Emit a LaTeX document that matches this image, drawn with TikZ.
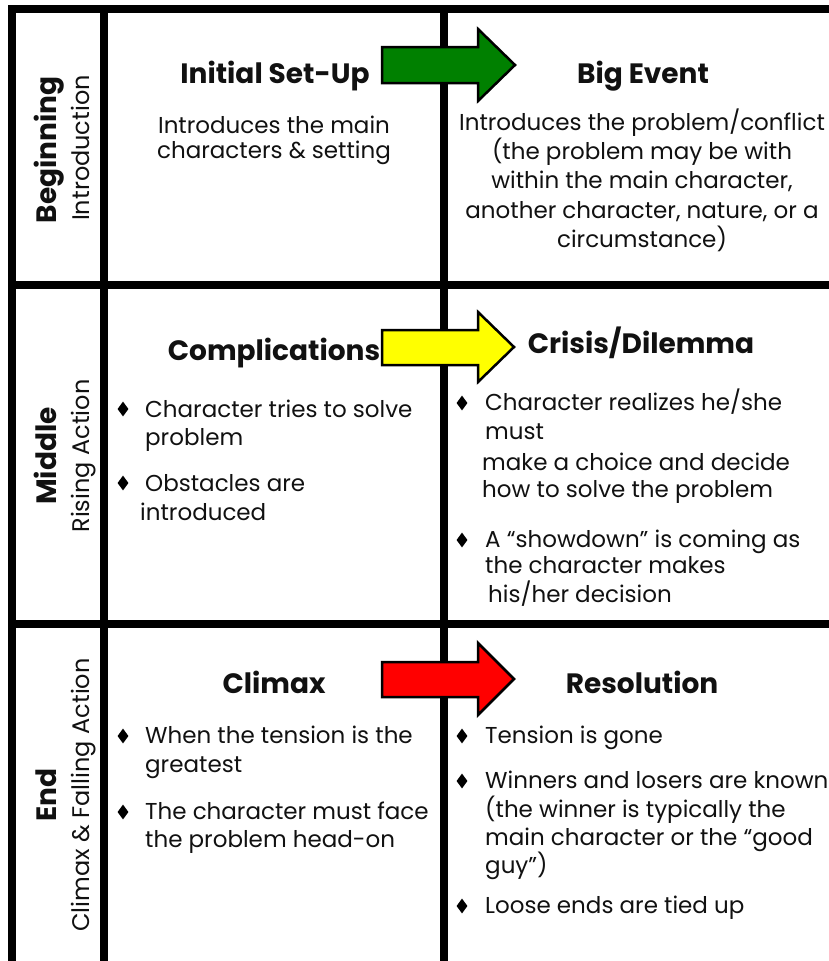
\documentclass[tikz,border=0pt]{standalone}
\usepackage{fontspec}
\setmainfont{Poppins}
\usetikzlibrary{shapes.geometric}
\definecolor{ink}{HTML}{111111}
\definecolor{agreen}{HTML}{008000}
\definecolor{ayellow}{HTML}{FFFF00}
\definecolor{ared}{HTML}{FF0000}
\tikzset{
  grid/.style={line width=8pt, black},
  head/.style={font=\fontsize{28}{32}\selectfont\bfseries, anchor=base, inner sep=0pt, text=ink},
  body/.style={font=\fontsize{23}{27}\selectfont, anchor=base, inner sep=0pt, text=ink},
  bl/.style={body, anchor=base west},
  bul/.style={diamond, fill=black, inner sep=0pt, minimum width=11pt, minimum height=15pt},
  lbig/.style={font=\fontsize{28}{32}\selectfont\bfseries, anchor=base, rotate=90, inner sep=0pt, text=ink},
  lsmall/.style={font=\fontsize{24}{28}\selectfont, anchor=base, rotate=90, inner sep=0pt, text=ink},
  blockarrow/.style={draw=black, line width=2.5pt, line join=miter}
}
\begin{document}
\begin{tikzpicture}[x=1pt,y=-1pt]
\useasboundingbox (0,0) rectangle (829,961);
\fill[white] (0,0) rectangle (829,961);
\clip (0,0) rectangle (829,961);
% grid
\draw[grid] (12,970) -- (12,9) -- (840,9);
\draw[grid] (104,9) -- (104,970);
\draw[grid] (444,9) -- (444,970);
\draw[grid] (12,285) -- (840,285);
\draw[grid] (12,624) -- (840,624);
% side labels
\node[lbig] (beg) at (56,150) {Beginning};
\node[lsmall] (intro) at (89,148) {Introduction};
\node[lbig] (mid) at (56,456) {Middle};
\node[lsmall] (rising) at (89,456) {Rising Action};
\node[lbig] (endl) at (56,795) {End};
\node[lsmall] (falling) at (89,795) {Climax \& Falling Action};
% row 1
\node[head] (h11) at (275,83) {Initial Set-Up};
\node[body] (t11a) at (274,133) {Introduces the main};
\node[body] (t11b) at (274,158) {characters \& setting};
\node[head] (h12) at (643,83) {Big Event};
\node[body] (t12a) at (642,130) {Introduces the problem/conflict};
\node[body] (t12b) at (642,159) {(the problem may be with};
\node[body] (t12c) at (642,188) {within the main character,};
\node[body] (t12d) at (642,218) {another character, nature, or a};
\node[body] (t12e) at (642,247) {circumstance)};
% row 2
\node[head] (h21) at (274,360) {Complications};
\node[bul] (d21a) at (123,409) {};
\node[bl] (t21a) at (145,417) {Character tries to solve};
\node[bl] (t21b) at (145,445) {problem};
\node[bul] (d21b) at (123,483) {};
\node[bl] (t21c) at (145,491) {Obstacles are};
\node[bl] (t21d) at (140,520) {introduced};
\node[head] (h22) at (641,353) {Crisis/Dilemma};
\node[bul] (d22a) at (462,403) {};
\node[bl] (t22a) at (485,410) {Character realizes he/she};
\node[bl] (t22b) at (485,439) {must};
\node[bl] (t22c) at (482,470) {make a choice and decide};
\node[bl] (t22d) at (482,497) {how to solve the problem};
\node[bul] (d22b) at (462,540) {};
\node[bl] (t22e) at (485,547) {A “showdown” is coming as};
\node[bl] (t22f) at (485,573) {the character makes};
\node[bl] (t22g) at (488,602) {his/her decision};
% row 3
\node[head] (h31) at (274,693) {Climax};
\node[bul] (d31a) at (123,736) {};
\node[bl] (t31a) at (145,743) {When the tension is the};
\node[bl] (t31b) at (145,772) {greatest};
\node[bul] (d31b) at (123,812) {};
\node[bl] (t31c) at (145,819) {The character must face};
\node[bl] (t31d) at (145,847) {the problem head-on};
\node[head] (h32) at (642,693) {Resolution};
\node[bul] (d32a) at (462,736) {};
\node[bl] (t32a) at (485,743) {Tension is gone};
\node[bul] (d32b) at (462,781) {};
\node[bl] (t32b) at (485,788) {Winners and losers are known};
\node[bl] (t32c) at (485,817) {(the winner is typically the};
\node[bl] (t32d) at (485,845) {main character or the “good};
\node[bl] (t32e) at (485,873) {guy”)};
\node[bul] (d32c) at (462,906) {};
\node[bl] (t32f) at (485,913) {Loose ends are tied up};
% arrows
\filldraw[blockarrow, fill=agreen] (382,47) -- (478,47) -- (478,29) -- (515,65) -- (478,101) -- (478,83) -- (382,83) -- cycle;
\filldraw[blockarrow, fill=ayellow] (382,330) -- (478,330) -- (478,312) -- (514,347) -- (478,382) -- (478,365) -- (382,365) -- cycle;
\filldraw[blockarrow, fill=ared] (382,662) -- (478,662) -- (478,643) -- (514,679) -- (478,715) -- (478,697) -- (382,697) -- cycle;
\end{tikzpicture}
\end{document}
